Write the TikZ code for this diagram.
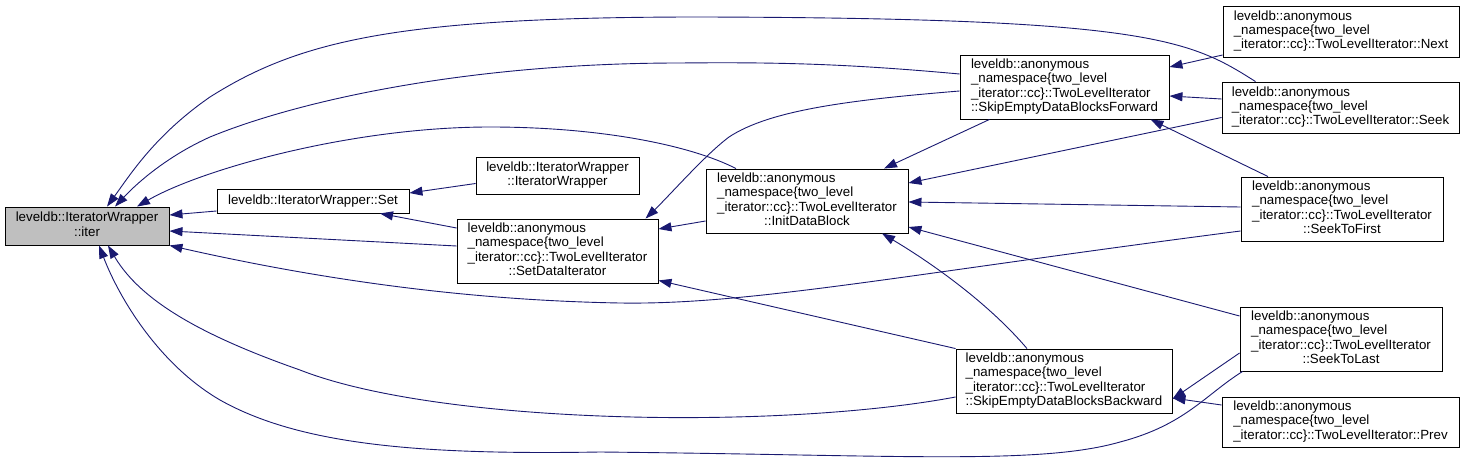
\documentclass[tikz,border=0pt]{standalone}
\usepackage{fontspec}
\setmainfont{Liberation Sans}
\usepackage{tikz}
\usetikzlibrary{arrows.meta}
\definecolor{edgeblue}{RGB}{25,25,112}
\newcommand{\tlvl}{leveldb::anonymous\\\_namespace\{two\_level\\\_iterator::cc\}::TwoLevelIterator}

\begin{document}
\begin{tikzpicture}[
  x=1pt, y=-1pt,
  fn/.style={draw, line width=0.9pt, fill=white, inner sep=0pt, font=\fontsize{13.3}{14.3}\selectfont},
  cur/.style={fn, fill=black!25},
  call/.style={-{Triangle[length=13pt,width=9pt]}, edgeblue, line width=0.9pt}
]
  \useasboundingbox (0,0) rectangle (1467,468);

  \node[cur, minimum width=164pt, minimum height=38pt] (iter) at (87,226)
    {\begin{tabular}{@{}c@{}}leveldb::IteratorWrapper\\::iter\end{tabular}};
  \node[fn, minimum width=192pt, minimum height=24pt] (set) at (313,201)
    {leveldb::IteratorWrapper::Set};
  \node[fn, minimum width=163pt, minimum height=37pt] (ctor) at (557.5,175.5)
    {\begin{tabular}{@{}c@{}}leveldb::IteratorWrapper\\::IteratorWrapper\end{tabular}};
  \node[fn, minimum width=201pt, minimum height=64pt] (setdata) at (557.5,251)
    {\begin{tabular}{@{}l@{}}\tlvl\\\multicolumn{1}{@{}c@{}}{::SetDataIterator}\end{tabular}};
  \node[fn, minimum width=202pt, minimum height=64pt] (init) at (807,201)
    {\begin{tabular}{@{}l@{}}\tlvl\\\multicolumn{1}{@{}c@{}}{::InitDataBlock}\end{tabular}};
  \node[fn, minimum width=209pt, minimum height=64pt] (fwd) at (1064.5,87)
    {\begin{tabular}{@{}l@{}}\tlvl\\::SkipEmptyDataBlocksForward\end{tabular}};
  \node[fn, minimum width=216pt, minimum height=64pt] (bwd) at (1064,381)
    {\begin{tabular}{@{}l@{}}\tlvl\\::SkipEmptyDataBlocksBackward\end{tabular}};
  \node[fn, minimum width=236pt, minimum height=51pt] (next) at (1341,31.5)
    {\begin{tabular}{@{}l@{}}\tlvl::Next\end{tabular}};
  \node[fn, minimum width=237pt, minimum height=51pt] (seek) at (1340.5,107.5)
    {\begin{tabular}{@{}l@{}}\tlvl::Seek\end{tabular}};
  \node[fn, minimum width=202pt, minimum height=64pt] (first) at (1342,209)
    {\begin{tabular}{@{}l@{}}\tlvl\\\multicolumn{1}{@{}c@{}}{::SeekToFirst}\end{tabular}};
  \node[fn, minimum width=202pt, minimum height=64pt] (last) at (1341,339)
    {\begin{tabular}{@{}l@{}}\tlvl\\\multicolumn{1}{@{}c@{}}{::SeekToLast}\end{tabular}};
  \node[fn, minimum width=237pt, minimum height=50pt] (prev) at (1340.5,422)
    {\begin{tabular}{@{}l@{}}\tlvl::Prev\end{tabular}};

  % callers of iter
  \draw[call] ([xshift=-85pt]seek.north) .. controls (1190,40) and (1150,18) .. (700,17)
    .. controls (400,17) and (300,40) .. (210,97)
    .. controls (155,135) and (130,175) .. ([xshift=20pt]iter.north);
  \draw[call] ([yshift=13pt]fwd.west) .. controls (850,64) and (780,62) .. (680,63)
    .. controls (470,63) and (300,100) .. (210,137)
    .. controls (170,155) and (140,180) .. ([xshift=28pt]iter.north);
  \draw[call] ([xshift=-71pt]init.north) .. controls (690,145) and (600,127) .. (490,127)
    .. controls (350,127) and (200,170) .. ([xshift=50pt]iter.north);
  \draw[call] ([yshift=-10pt]set.west) -- ([yshift=11pt]iter.east);
  \draw[call] ([yshift=5pt]setdata.west) -- ([yshift=-5pt]iter.east);
  \draw[call] ([yshift=-22pt]first.west) .. controls (900,275) and (750,305) .. (620,303)
    .. controls (450,300) and (300,275) .. (iter.south east);
  \draw[call] ([yshift=-16pt]bwd.west) .. controls (780,430) and (440,425) .. (300,370)
    .. controls (200,335) and (140,300) .. ([xshift=21pt]iter.south);
  \draw[call] ([xshift=3pt]last.south west) .. controls (1205,395) and (1185,425) .. (1120,442)
    .. controls (1040,465) and (900,455) .. (600,452)
    .. controls (420,455) and (300,445) .. (220,400)
    .. controls (160,365) and (120,300) .. ([xshift=12pt]iter.south);

  % callers of set
  \draw[call] ([yshift=-8pt]ctor.west) -- ([yshift=8pt]set.east);
  \draw[call] ([yshift=23pt]setdata.west) -- ([xshift=67pt]set.south);

  % callers of setdata
  \draw[call] ([yshift=-20pt]init.west) -- ([yshift=22pt]setdata.east);
  \draw[call] ([yshift=-4pt]fwd.west) .. controls (850,100) and (770,110) .. (729,137)
    .. controls (705,155) and (670,195) .. ([xshift=88pt]setdata.north);
  \draw[call] (bwd.north west) -- ([yshift=3pt]setdata.south east);

  % callers of init
  \draw[call] ([xshift=-75pt]fwd.south) -- ([xshift=77pt]init.north);
  \draw[call] ([yshift=-10pt]seek.west) -- ([yshift=18pt]init.east);
  \draw[call] ([yshift=2pt]first.west) -- ([yshift=-1pt]init.east);
  \draw[call] ([yshift=23pt]last.west) -- ([yshift=-26pt]init.east);
  \draw[call] ([xshift=-37pt]bwd.north) .. controls (990,305) and (935,265) .. ([xshift=75pt]init.south);

  % callers of fwd and bwd
  \draw[call] ([yshift=-23.5pt]next.west) -- ([yshift=20pt]fwd.east);
  \draw[call] ([yshift=8.5pt]seek.west) -- ([yshift=-9pt]fwd.east);
  \draw[call] ([xshift=-74pt]first.north) -- ([xshift=86pt]fwd.south);
  \draw[call] ([yshift=-14pt]last.west) -- ([yshift=-18pt]bwd.east);
  \draw[call] ([yshift=17pt]prev.west) -- ([yshift=-17pt]bwd.east);
\end{tikzpicture}
\end{document}
